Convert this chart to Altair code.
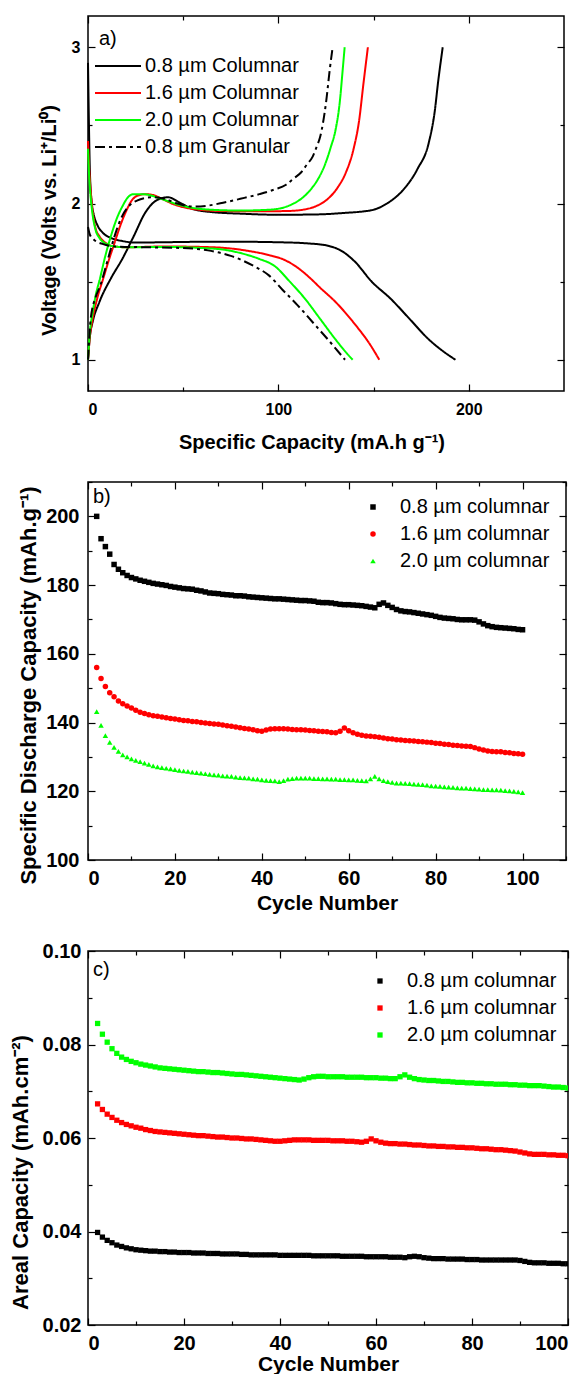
import altair as alt
import pandas as pd

FONT = "Liberation Sans"
BLACK, RED, GREEN = "#000000", "#ff0000", "#00ff00"

# ---------------- panel a : voltage profiles ----------------
a_labels = ["0.8 µm Columnar", "1.6 µm Columnar", "2.0 µm Columnar", "0.8 µm Granular"]

c08_dis_x = [0, 0.5, 1, 2, 3, 5, 8, 12, 18, 25, 40, 60, 80, 100, 115, 126, 134, 140, 149, 159, 169, 179, 187, 193]
c08_dis_v = [2.9, 2.5, 2.2, 2.0, 1.93, 1.86, 1.81, 1.78, 1.76, 1.75, 1.752, 1.755, 1.755, 1.752, 1.745, 1.73, 1.69, 1.63, 1.50, 1.39, 1.26, 1.13, 1.05, 1.0]
c08_chg_x = [0, 1, 2.4, 6, 12, 18, 24, 30, 36, 42, 49, 55, 65, 80, 100, 120, 135, 145, 150, 157, 165, 173, 179, 182, 184, 186.3]
c08_chg_v = [1.0, 1.15, 1.24, 1.37, 1.52, 1.645, 1.79, 1.94, 2.02, 2.04, 2.0, 1.965, 1.945, 1.935, 1.928, 1.93, 1.94, 1.95, 1.96, 2.0, 2.08, 2.22, 2.39, 2.58, 2.79, 3.0]

c16_dis_x = [0, 0.5, 1, 2, 4, 6, 9, 14, 20, 40, 60, 75, 85, 95, 103, 110, 116, 122, 130, 140, 148, 153]
c16_dis_v = [2.4, 2.25, 2.15, 2.0, 1.84, 1.79, 1.75, 1.725, 1.72, 1.725, 1.722, 1.712, 1.695, 1.67, 1.64, 1.59, 1.53, 1.46, 1.37, 1.23, 1.10, 1.0]
c16_chg_x = [0, 1, 2.4, 5, 8, 11, 14, 17, 20, 23, 26, 30, 34, 38, 45, 55, 70, 90, 105, 115, 121, 126, 131, 135.5, 139.5, 142.5, 144.5, 147]
c16_chg_v = [1.0, 1.15, 1.26, 1.40, 1.52, 1.64, 1.75, 1.86, 1.95, 2.02, 2.05, 2.06, 2.055, 2.035, 1.995, 1.965, 1.952, 1.95, 1.952, 1.965, 1.99, 2.03, 2.10, 2.2, 2.35, 2.54, 2.75, 3.0]

c20_dis_x = [0, 0.5, 1, 2, 4, 6, 9, 14, 20, 40, 60, 71, 81, 90, 98, 106, 114, 122, 130, 136, 139]
c20_dis_v = [2.35, 2.2, 2.1, 1.97, 1.83, 1.78, 1.745, 1.725, 1.72, 1.722, 1.715, 1.705, 1.68, 1.645, 1.60, 1.50, 1.39, 1.26, 1.13, 1.04, 1.0]
c20_chg_x = [0, 1, 2.4, 4, 6.3, 9, 12, 15, 18, 21, 24, 28, 32, 36, 42, 48, 56, 65, 80, 95, 103, 108, 113, 117, 121, 124.5, 127.5, 130, 132.2, 133.8, 134.8]
c20_chg_v = [1.0, 1.18, 1.30, 1.41, 1.52, 1.66, 1.79, 1.90, 1.98, 2.04, 2.06, 2.06, 2.055, 2.04, 2.015, 1.99, 1.97, 1.96, 1.955, 1.96, 1.975, 2.0, 2.04, 2.09, 2.16, 2.25, 2.36, 2.47, 2.645, 2.86, 3.0]

g08_dis_x = [0, 1, 3, 8, 15, 30, 50, 63, 75, 87, 95, 102, 110, 118, 126, 135]
g08_dis_v = [1.85, 1.80, 1.77, 1.74, 1.725, 1.72, 1.715, 1.70, 1.665, 1.60, 1.54, 1.45, 1.35, 1.24, 1.13, 1.0]
g08_chg_x = [0, 1.4, 4, 6.3, 9, 12, 15, 18, 22, 26, 30, 34, 40, 47, 55, 62, 71, 80, 90, 98, 104, 108, 112, 115, 118, 120, 122, 125, 127, 128.5]
g08_chg_v = [1.0, 1.26, 1.40, 1.47, 1.58, 1.71, 1.83, 1.92, 1.99, 2.02, 2.035, 2.04, 2.03, 2.0, 1.98, 1.985, 2.005, 2.03, 2.06, 2.09, 2.12, 2.16, 2.2, 2.25, 2.30, 2.36, 2.43, 2.645, 2.86, 3.0]

curves = [
    (a_labels[0], "d", c08_dis_x, c08_dis_v), (a_labels[0], "c", c08_chg_x, c08_chg_v),
    (a_labels[1], "d", c16_dis_x, c16_dis_v), (a_labels[1], "c", c16_chg_x, c16_chg_v),
    (a_labels[2], "d", c20_dis_x, c20_dis_v), (a_labels[2], "c", c20_chg_x, c20_chg_v),
    (a_labels[3], "d", g08_dis_x, g08_dis_v), (a_labels[3], "c", g08_chg_x, g08_chg_v),
]
rows = []
for lab, kind, xs, vs in curves:
    for i, (x, v) in enumerate(zip(xs, vs)):
        rows.append({"sample": lab, "curve": lab + kind, "cap": x, "volt": v, "i": i})
df_a = pd.DataFrame(rows)

# ---------------- panel b : specific discharge capacity ----------------
cycles = list(range(2, 101))
b_labels = ["0.8 µm columnar", "1.6 µm columnar", "\u00a02.0 µm columnar"]
b_black = [200.0, 193.5, 191.2, 189.0, 186.0, 184.6, 183.6, 182.8, 182.2, 181.8,
           181.4, 181.1, 180.8, 180.5, 180.3, 180.1, 179.9, 179.6, 179.4, 179.2,
           179.0, 178.9, 178.8, 178.5, 178.3, 178.0, 177.7, 177.6, 177.5, 177.3,
           177.2, 177.1, 176.9, 176.9, 176.8, 176.6, 176.5, 176.4, 176.3, 176.2,
           176.1, 176.0, 176.0, 175.9, 175.8, 175.7, 175.6, 175.5, 175.5, 175.4,
           175.3, 175.0, 174.9, 174.9, 174.8, 174.6, 174.4, 174.3, 174.3, 174.2,
           174.1, 174.0, 173.8, 173.6, 173.4, 174.4, 174.8, 174.1, 173.5, 172.9,
           172.5, 172.3, 172.2, 172.0, 171.8, 171.6, 171.4, 171.2, 170.9, 170.6,
           170.4, 170.3, 170.2, 170.0, 169.9, 169.9, 169.9, 169.8, 169.3, 168.7,
           168.2, 167.9, 167.7, 167.6, 167.5, 167.4, 167.3, 167.1, 167.0]
b_red = [156.0, 152.8, 150.5, 148.7, 147.5, 146.3, 145.5, 144.8, 144.2, 143.6,
         143.0, 142.6, 142.3, 142.0, 141.8, 141.6, 141.4, 141.2, 141.0, 140.8,
         140.6, 140.5, 140.3, 140.2, 140.0, 139.9, 139.7, 139.6, 139.5, 139.3,
         139.1, 138.9, 138.7, 138.5, 138.3, 138.1, 137.9, 137.6, 137.5, 137.8,
         138.1, 138.2, 138.2, 138.2, 138.1, 138.0, 137.9, 137.9, 137.8, 137.7,
         137.6, 137.5, 137.4, 137.3, 137.1, 137.0, 137.5, 138.4, 137.6, 137.0,
         136.6, 136.3, 136.1, 136.0, 135.9, 135.7, 135.5, 135.3, 135.2, 135.0,
         134.9, 134.8, 134.7, 134.6, 134.5, 134.4, 134.3, 134.2, 134.0, 133.9,
         133.7, 133.6, 133.4, 133.3, 133.2, 133.1, 133.0, 132.7, 132.3, 132.0,
         131.7, 131.6, 131.5, 131.5, 131.3, 131.2, 131.0, 130.9, 130.8]
b_green = [143.2, 139.2, 136.2, 134.2, 132.8, 131.6, 130.6, 130.0, 129.4, 129.0,
           128.6, 128.2, 127.8, 127.4, 127.1, 126.9, 126.7, 126.5, 126.3, 126.1,
           125.9, 125.8, 125.6, 125.4, 125.3, 125.1, 124.9, 124.8, 124.7, 124.5,
           124.4, 124.3, 124.1, 124.0, 123.9, 123.8, 123.6, 123.5, 123.3, 123.2,
           123.1, 123.0, 122.8, 123.1, 123.5, 123.7, 123.8, 123.8, 123.8, 123.8,
           123.7, 123.7, 123.6, 123.6, 123.5, 123.5, 123.4, 123.4, 123.3, 123.3,
           123.2, 123.1, 123.0, 123.6, 124.3, 123.6, 123.1, 122.8, 122.6, 122.4,
           122.4, 122.3, 122.2, 122.1, 122.0, 121.9, 121.8, 121.6, 121.5, 121.4,
           121.3, 121.2, 121.1, 121.0, 120.9, 120.9, 120.8, 120.7, 120.6, 120.5,
           120.5, 120.4, 120.4, 120.3, 120.2, 120.1, 120.0, 119.8, 119.6]

# ---------------- panel c : areal capacity ----------------
c_black = [0.0398, 0.0388, 0.0381, 0.0376, 0.0371, 0.0368, 0.0365, 0.0363, 0.0361, 0.0360,
           0.0359, 0.0358, 0.0358, 0.0357, 0.0357, 0.0356, 0.0356, 0.0355, 0.0355, 0.0355,
           0.0354, 0.0354, 0.0354, 0.0353, 0.0353, 0.0353, 0.0352, 0.0352, 0.0352, 0.0352,
           0.0351, 0.0351, 0.0350, 0.0350, 0.0350, 0.0350, 0.0350, 0.0350, 0.0349, 0.0349,
           0.0349, 0.0349, 0.0349, 0.0349, 0.0349, 0.0348, 0.0348, 0.0348, 0.0348, 0.0348,
           0.0348, 0.0347, 0.0347, 0.0347, 0.0347, 0.0347, 0.0346, 0.0346, 0.0346, 0.0346,
           0.0346, 0.0345, 0.0345, 0.0345, 0.0344, 0.0346, 0.0347, 0.0346, 0.0344, 0.0343,
           0.0342, 0.0342, 0.0342, 0.0341, 0.0341, 0.0341, 0.0341, 0.0340, 0.0340, 0.0340,
           0.0339, 0.0339, 0.0339, 0.0339, 0.0339, 0.0339, 0.0339, 0.0339, 0.0338, 0.0336,
           0.0334, 0.0333, 0.0333, 0.0333, 0.0332, 0.0332, 0.0332, 0.0331, 0.0331]
c_red = [0.0673, 0.0661, 0.0651, 0.0644, 0.0638, 0.0633, 0.0629, 0.0626, 0.0623, 0.0621,
         0.0618, 0.0616, 0.0614, 0.0613, 0.0612, 0.0611, 0.0610, 0.0609, 0.0608, 0.0607,
         0.0606, 0.0605, 0.0605, 0.0604, 0.0603, 0.0602, 0.0602, 0.0601, 0.0600, 0.0600,
         0.0599, 0.0598, 0.0598, 0.0597, 0.0596, 0.0595, 0.0594, 0.0593, 0.0593, 0.0594,
         0.0595, 0.0596, 0.0596, 0.0596, 0.0596, 0.0595, 0.0595, 0.0595, 0.0595, 0.0594,
         0.0594, 0.0594, 0.0593, 0.0593, 0.0592, 0.0591, 0.0593, 0.0598, 0.0594, 0.0591,
         0.0589, 0.0588, 0.0588, 0.0587, 0.0587, 0.0586, 0.0585, 0.0585, 0.0584, 0.0583,
         0.0583, 0.0582, 0.0582, 0.0581, 0.0581, 0.0580, 0.0580, 0.0579, 0.0579, 0.0578,
         0.0577, 0.0577, 0.0576, 0.0575, 0.0575, 0.0574, 0.0573, 0.0572, 0.0570, 0.0568,
         0.0566, 0.0565, 0.0565, 0.0565, 0.0564, 0.0564, 0.0563, 0.0563, 0.0562]
c_green = [0.0845, 0.0822, 0.0805, 0.0791, 0.0781, 0.0773, 0.0768, 0.0764, 0.0761, 0.0758,
           0.0756, 0.0754, 0.0752, 0.0750, 0.0749, 0.0748, 0.0747, 0.0746, 0.0745, 0.0744,
           0.0743, 0.0742, 0.0742, 0.0741, 0.0740, 0.0740, 0.0739, 0.0738, 0.0737, 0.0736,
           0.0736, 0.0735, 0.0734, 0.0733, 0.0732, 0.0731, 0.0730, 0.0729, 0.0728, 0.0727,
           0.0726, 0.0725, 0.0724, 0.0726, 0.0729, 0.0731, 0.0732, 0.0732, 0.0731, 0.0731,
           0.0731, 0.0731, 0.0730, 0.0730, 0.0730, 0.0730, 0.0729, 0.0729, 0.0729, 0.0728,
           0.0728, 0.0727, 0.0727, 0.0731, 0.0735, 0.0730, 0.0727, 0.0725, 0.0724, 0.0723,
           0.0723, 0.0722, 0.0721, 0.0721, 0.0720, 0.0719, 0.0719, 0.0718, 0.0718, 0.0717,
           0.0717, 0.0716, 0.0716, 0.0715, 0.0715, 0.0715, 0.0714, 0.0714, 0.0713, 0.0713,
           0.0712, 0.0712, 0.0712, 0.0711, 0.0710, 0.0709, 0.0709, 0.0708, 0.0707]


def long_df(labels, series, name):
    rows = []
    for lab, vals in zip(labels, series):
        for cyc, v in zip(cycles, vals):
            rows.append({"series": lab, "cycle": cyc, name: v})
    return pd.DataFrame(rows)


df_b = long_df(b_labels, [b_black, b_red, b_green], "spec")
df_c = long_df(b_labels, [c_black, c_red, c_green], "areal")


def tick_axis(orient, offset, values, test, major=7, minor=4):
    return alt.Axis(orient=orient, offset=offset, values=values, labels=False,
                    domain=False, ticks=True, grid=False, title=None,
                    tickColor="black", tickWidth=1.2,
                    tickSize={"condition": {"test": test, "value": major}, "value": minor})


def tick_layers(df, xf, yf, xsc, ysc, xv, yv, xtest, ytest, W, H):
    l1 = alt.Chart(df).mark_point(opacity=0).encode(
        x=alt.X(xf, scale=xsc, axis=tick_axis("top", -H, xv, xtest)),
        y=alt.Y(yf, scale=ysc, axis=tick_axis("right", -W, yv, ytest)),
    )
    l2 = alt.Chart(df).mark_point(opacity=0).encode(
        x=alt.X(xf, scale=xsc, axis=tick_axis("bottom", -H, xv, xtest)),
        y=alt.Y(yf, scale=ysc, axis=tick_axis("left", -W, yv, ytest)),
    )
    return [l1, l2]


def main_axis(orient, values, fs, pad, title, tfs, tx=None, ty=None, fmt=None):
    kw = dict(orient=orient, values=values, ticks=False, tickSize=0, domain=False,
              grid=False, labelFont=FONT, labelFontSize=fs, labelFontWeight="bold",
              labelColor="black", labelPadding=pad, title=title, titleFont=FONT,
              titleFontSize=tfs, titleFontWeight="bold", titleColor="black",
              titleBaseline="middle")
    if tx is not None:
        kw["titleX"] = tx
    if ty is not None:
        kw["titleY"] = ty
    if fmt is not None:
        kw["format"] = fmt
    if orient == "left":
        kw["titleAngle"] = -90
    return alt.Axis(**kw)


def tag(text, x, y):
    return alt.Chart(pd.DataFrame({"t": [text]})).mark_text(
        align="left", baseline="middle", font=FONT, fontSize=20, color="black"
    ).encode(text="t:N", x=alt.value(x), y=alt.value(y))


# ---- panel a ----
WA, HA = 476, 375
xs_a = alt.Scale(domain=[0, 250], nice=False, zero=False)
ys_a = alt.Scale(domain=[0.8, 3.2], nice=False, zero=False)
leg_a = alt.Legend(orient="none", legendX=6, legendY=40, title=None, padding=0,
                   symbolType="stroke", symbolSize=2116, symbolStrokeWidth=2,
                   labelFont=FONT, labelFontSize=20, labelColor="black",
                   labelOffset=3, rowPadding=7, clipHeight=20)
lines_a = alt.Chart(df_a).mark_line(strokeWidth=2, interpolate="monotone").encode(
    x=alt.X("cap:Q", scale=xs_a,
            axis=main_axis("bottom", [0, 100, 200], 16, 10, "Specific Capacity (mA.h g⁻¹)", 20, tx=223.5, ty=51)),
    y=alt.Y("volt:Q", scale=ys_a,
            axis=main_axis("left", [1, 2, 3], 16, 8, "Voltage (Volts vs. Li⁺/Li⁰)", 20, tx=-39, ty=204)),
    color=alt.Color("sample:N", scale=alt.Scale(domain=a_labels, range=[BLACK, RED, GREEN, BLACK]), legend=leg_a),
    strokeDash=alt.StrokeDash("sample:N", scale=alt.Scale(domain=a_labels, range=[[1, 0], [1, 0], [1, 0], [10, 4, 3, 4]]), legend=leg_a),
    detail="curve:N",
    order="i:Q",
)
panel_a = alt.layer(
    lines_a,
    *tick_layers(df_a, "cap:Q", "volt:Q", xs_a, ys_a, [0, 50, 100, 150, 200],
                 [1, 1.5, 2, 2.5, 3], "datum.value % 100 === 0", "datum.value % 1 === 0", WA, HA),
    tag("a)", 11, 23),
).resolve_axis(x="independent", y="independent").properties(width=WA, height=HA)

# ---- panel b ----
WB, HB = 478, 378
xs_b = alt.Scale(domain=[0, 110], nice=False, zero=False)
ys_b = alt.Scale(domain=[100, 210], nice=False, zero=False)
leg_b = alt.Legend(orient="none", legendX=275, legendY=15, title=None, padding=0,
                   symbolSize=30, symbolOpacity=1, labelFont=FONT, labelFontSize=20,
                   labelColor="black", labelOffset=17, rowPadding=7)
pts_b = alt.Chart(df_b).mark_point(filled=True, size=30, opacity=1).encode(
    x=alt.X("cycle:Q", scale=xs_b,
            axis=main_axis("bottom", [0, 20, 40, 60, 80, 100], 20, 8, "Cycle Number", 21, ty=43)),
    y=alt.Y("spec:Q", scale=ys_b,
            axis=main_axis("left", [100, 120, 140, 160, 180, 200], 20, 9, "Specific Discharge Capacity (mAh.g⁻¹)", 22, tx=-60, ty=203)),
    color=alt.Color("series:N", scale=alt.Scale(domain=b_labels, range=[BLACK, RED, GREEN]), legend=leg_b),
    shape=alt.Shape("series:N", scale=alt.Scale(domain=b_labels, range=["square", "circle", "triangle-up"]), legend=leg_b),
)
panel_b = alt.layer(
    pts_b,
    *tick_layers(df_b, "cycle:Q", "spec:Q", xs_b, ys_b, list(range(0, 111, 10)),
                 list(range(100, 211, 10)), "datum.value % 20 === 0", "datum.value % 20 === 0", WB, HB),
    tag("b)", 5, 15),
).resolve_axis(x="independent", y="independent").properties(width=WB, height=HB)

# ---- panel c ----
WC, HC = 480, 374
xs_c = alt.Scale(domain=[0, 100], nice=False, zero=False)
ys_c = alt.Scale(domain=[0.02, 0.10], nice=False, zero=False)
leg_c = alt.Legend(orient="none", legendX=282, legendY=20, title=None, padding=0,
                   symbolType="square", symbolSize=28, symbolOpacity=1, labelFont=FONT,
                   labelFontSize=20, labelColor="black", labelOffset=17, rowPadding=7)
pts_c = alt.Chart(df_c).mark_square(size=28, opacity=1, clip=True).encode(
    x=alt.X("cycle:Q", scale=xs_c,
            axis=main_axis("bottom", [0, 20, 40, 60, 80, 100], 20, 8, "Cycle Number", 21, ty=39)),
    y=alt.Y("areal:Q", scale=ys_c,
            axis=main_axis("left", [0.02, 0.04, 0.06, 0.08, 0.10], 20, 7, "Areal Capacity (mAh.cm⁻²)", 22, tx=-68, ty=221, fmt=".2f")),
    color=alt.Color("series:N", scale=alt.Scale(domain=b_labels, range=[BLACK, RED, GREEN]), legend=leg_c),
)
panel_c = alt.layer(
    pts_c,
    *tick_layers(df_c, "cycle:Q", "areal:Q", xs_c, ys_c, list(range(0, 101, 10)),
                 [0.02, 0.03, 0.04, 0.05, 0.06, 0.07, 0.08, 0.09, 0.10],
                 "datum.value % 20 === 0", "round(datum.value * 100) % 2 === 0", WC, HC),
    tag("c)", 5, 19),
).resolve_axis(x="independent", y="independent").properties(width=WC, height=HC)

chart = alt.vconcat(panel_a, panel_b, panel_c, spacing=91, bounds="flush").resolve_scale(
    color="independent", shape="independent", strokeDash="independent"
).properties(
    padding={"left": 8, "top": 14, "right": 0, "bottom": 0}
).configure_view(stroke="black", strokeWidth=1.5)

chart.save("out.html", embed_options={"renderer": "svg", "actions": False})
